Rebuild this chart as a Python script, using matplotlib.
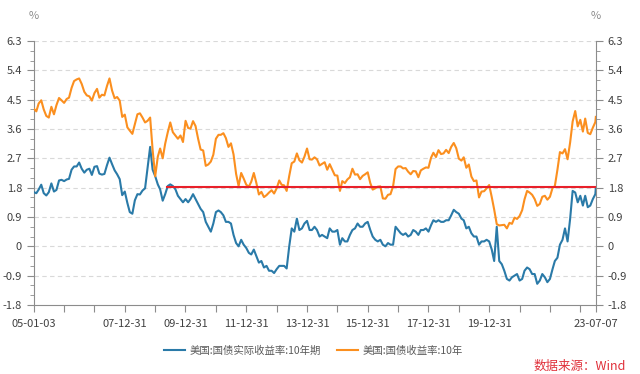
import matplotlib
matplotlib.use("Agg")
import matplotlib.pyplot as plt
import matplotlib.dates as mdates
import pandas as pd
from matplotlib.ticker import MultipleLocator, FixedLocator

plt.rcParams['font.family'] = ['Noto Sans CJK SC', 'DejaVu Sans']

# monthly readings (value at start of each month), 2005-01 .. 2023-07, plus last day
start_date = "2005-01-03"
end_date = "2023-07-07"

nominal_10y = [
    4.22, 4.14, 4.38, 4.48, 4.20, 4.00, 3.95, 4.28, 4.05, 4.33, 4.55, 4.48,   # 2005
    4.40, 4.52, 4.56, 4.86, 5.07, 5.12, 5.15, 4.98, 4.74, 4.63, 4.60, 4.47,   # 2006
    4.70, 4.83, 4.56, 4.65, 4.63, 4.92, 5.15, 4.78, 4.54, 4.58, 4.47, 3.97,   # 2007
    4.04, 3.65, 3.55, 3.45, 3.75, 4.05, 4.08, 3.95, 3.80, 3.85, 3.95, 2.95,   # 2008
    2.15, 2.75, 3.00, 2.70, 3.15, 3.50, 3.80, 3.50, 3.40, 3.30, 3.40, 3.20,   # 2009
    3.85, 3.63, 3.61, 3.84, 3.69, 3.30, 2.97, 2.94, 2.47, 2.51, 2.60, 2.81,   # 2010
    3.30, 3.42, 3.42, 3.47, 3.32, 3.05, 3.16, 2.82, 2.22, 1.85, 2.25, 2.08,   # 2011
    1.89, 1.83, 1.98, 2.25, 1.95, 1.59, 1.67, 1.51, 1.57, 1.65, 1.72, 1.62,   # 2012
    1.78, 2.02, 1.89, 1.87, 1.70, 2.16, 2.55, 2.60, 2.85, 2.64, 2.57, 2.75,   # 2013
    3.00, 2.67, 2.66, 2.73, 2.67, 2.48, 2.53, 2.58, 2.35, 2.52, 2.35, 2.18,   # 2014
    2.17, 1.70, 2.00, 1.94, 2.05, 2.12, 2.38, 2.20, 2.21, 2.06, 2.16, 2.21,   # 2015
    2.27, 1.94, 1.74, 1.78, 1.83, 1.84, 1.47, 1.46, 1.58, 1.60, 1.84, 2.37,   # 2016
    2.45, 2.45, 2.39, 2.40, 2.29, 2.21, 2.31, 2.30, 2.12, 2.33, 2.38, 2.42,   # 2017
    2.41, 2.72, 2.87, 2.74, 2.95, 2.83, 2.85, 2.96, 2.86, 3.05, 3.17, 3.01,   # 2018
    2.69, 2.63, 2.73, 2.41, 2.51, 2.14, 2.00, 2.02, 1.50, 1.68, 1.69, 1.78,   # 2019
    1.88, 1.51, 1.13, 0.68, 0.64, 0.65, 0.66, 0.55, 0.72, 0.69, 0.88, 0.84,   # 2020
    0.93, 1.11, 1.44, 1.70, 1.65, 1.58, 1.45, 1.24, 1.30, 1.52, 1.55, 1.43,   # 2021
    1.52, 1.79, 1.85, 2.35, 2.89, 2.85, 2.98, 2.67, 3.19, 3.83, 4.15, 3.68,   # 2022
    3.88, 3.52, 3.92, 3.48, 3.44, 3.64, 3.81,                                 # 2023
    3.97,
]

real_10y = [
    1.66, 1.63, 1.74, 1.89, 1.63, 1.56, 1.66, 1.93, 1.68, 1.73, 2.02, 2.04,   # 2005
    2.00, 2.05, 2.07, 2.35, 2.45, 2.45, 2.57, 2.38, 2.26, 2.35, 2.38, 2.19,   # 2006
    2.44, 2.46, 2.23, 2.20, 2.22, 2.49, 2.72, 2.52, 2.33, 2.21, 2.06, 1.57,   # 2007
    1.68, 1.33, 1.05, 1.00, 1.41, 1.60, 1.59, 1.71, 1.78, 2.40, 3.05, 2.35,   # 2008
    2.15, 1.90, 1.75, 1.40, 1.60, 1.85, 1.90, 1.85, 1.75, 1.55, 1.45, 1.35,   # 2009
    1.45, 1.35, 1.45, 1.60, 1.45, 1.30, 1.15, 1.05, 0.75, 0.60, 0.45, 0.70,   # 2010
    1.05, 1.10, 1.05, 0.95, 0.75, 0.75, 0.70, 0.35, 0.10, 0.00, 0.20, 0.05,   # 2011
    -0.05, -0.20, -0.25, -0.10, -0.30, -0.50, -0.45, -0.65, -0.60, -0.75, -0.75, -0.82,   # 2012
    -0.70, -0.60, -0.60, -0.60, -0.68, 0.00, 0.55, 0.45, 0.85, 0.50, 0.55, 0.70,   # 2013
    0.78, 0.50, 0.50, 0.60, 0.50, 0.30, 0.35, 0.30, 0.25, 0.55, 0.45, 0.45,   # 2014
    0.50, 0.05, 0.25, 0.15, 0.15, 0.35, 0.50, 0.55, 0.70, 0.60, 0.60, 0.70,   # 2015
    0.75, 0.50, 0.30, 0.20, 0.15, 0.20, 0.05, 0.00, 0.10, 0.05, 0.05, 0.60,   # 2016
    0.50, 0.40, 0.35, 0.40, 0.30, 0.35, 0.50, 0.45, 0.35, 0.50, 0.50, 0.55,   # 2017
    0.45, 0.65, 0.80, 0.75, 0.80, 0.75, 0.75, 0.80, 0.80, 0.95, 1.12, 1.05,   # 2018
    1.00, 0.85, 0.80, 0.55, 0.60, 0.40, 0.30, 0.30, 0.05, 0.15, 0.15, 0.20,   # 2019
    0.15, -0.10, -0.45, 0.60, -0.45, -0.55, -0.75, -1.00, -1.05, -0.95, -0.90, -0.85,   # 2020
    -1.05, -1.00, -0.75, -0.65, -0.70, -0.85, -0.85, -1.15, -1.05, -0.85, -0.95, -1.10,   # 2021
    -1.00, -0.70, -0.45, -0.35, 0.05, 0.20, 0.55, 0.15, 0.85, 1.70, 1.65, 1.35,   # 2022
    1.55, 1.25, 1.55, 1.20, 1.25, 1.45, 1.60,                                   # 2023
    1.80,
]

ref_level = 1.82
ref_start = "2009-05-20"

y_ticks = [-1.8, -0.9, 0, 0.9, 1.8, 2.7, 3.6, 4.5, 5.4, 6.3]
label_dates = ["2005-01-03", "2007-12-31", "2009-12-31", "2011-12-31", "2013-12-31",
               "2015-12-31", "2017-12-31", "2019-12-31", "2023-07-07"]
tick_dates = ["2005-01-03"] + [f"{y}-12-31" for y in range(2005, 2023)] + ["2023-07-07"]

dates = pd.date_range("2005-01-01", "2023-07-01", freq="MS").tolist()
dates[0] = pd.Timestamp(start_date)
dates.append(pd.Timestamp(end_date))

blue = "#2a7aa8"
orange = "#fb8f1f"
grey = "#8c8c8c"
text_c = "#404040"

fig = plt.figure(figsize=(6.4, 3.74), dpi=100)
ax = fig.add_axes([0.053, 0.1845, 0.878, 0.706])

ax.plot(dates, real_10y, color=blue, lw=1.5, label="美国:国债实际收益率:10年期", zorder=3)
ax.plot(dates, nominal_10y, color=orange, lw=1.5, label="美国:国债收益率:10年", zorder=3)
ax.plot([pd.Timestamp(ref_start), pd.Timestamp(end_date)], [ref_level, ref_level],
        color="#e8202a", lw=1.5, zorder=4)

ax.set_xlim(pd.Timestamp(start_date), pd.Timestamp(end_date))
ax.set_ylim(-1.8, 6.3)

ax.yaxis.set_major_locator(FixedLocator(y_ticks))
ax.yaxis.set_minor_locator(MultipleLocator(0.3))
ax.set_yticklabels([f"{v:g}" for v in y_ticks])
for y in y_ticks[1:]:
    ax.axhline(y, color="#d9d9d9", lw=0.8, ls=(0, (4, 3)), zorder=1)

tick_ts = [mdates.date2num(pd.Timestamp(d)) for d in tick_dates]
lab_set = set(label_dates)
ax.set_xticks(tick_ts)
ax.set_xticklabels([pd.Timestamp(d).strftime("%y-%m-%d") if d in lab_set else "" for d in tick_dates])

for s in ["top", "right"]:
    ax.spines[s].set_visible(False)
for s in ["left", "bottom"]:
    ax.spines[s].set_color(grey)

ax.tick_params(axis="both", which="major", length=5, color=grey, labelsize=8, labelcolor=text_c)
ax.tick_params(axis="y", which="minor", length=3, color=grey)
ax.tick_params(axis="x", pad=5)

ax2 = ax.twinx()
ax2.set_ylim(ax.get_ylim())
ax2.yaxis.set_major_locator(FixedLocator(y_ticks))
ax2.yaxis.set_minor_locator(MultipleLocator(0.3))
ax2.set_yticklabels([f"{v:g}" for v in y_ticks])
for s in ["top", "left", "bottom"]:
    ax2.spines[s].set_visible(False)
ax2.spines["right"].set_color(grey)
ax2.tick_params(axis="y", which="major", length=5, color=grey, labelsize=8, labelcolor=text_c)
ax2.tick_params(axis="y", which="minor", length=3, color=grey)

fig.text(0.053, 0.957, "%", ha="center", va="center", fontsize=8, color=grey)
fig.text(0.931, 0.957, "%", ha="center", va="center", fontsize=8, color=grey)

fig.legend(loc="center", bbox_to_anchor=(0.49, 0.062), ncol=2, frameon=False,
           fontsize=7.5, labelcolor="#595959", handlelength=2.0, columnspacing=1.5,
           handletextpad=0.5)
fig.text(0.978, 0.021, "数据来源：Wind", ha="right", va="center", fontsize=9, color="#e0303a")

fig.savefig("out.png", dpi=100)
plt.close(fig)
